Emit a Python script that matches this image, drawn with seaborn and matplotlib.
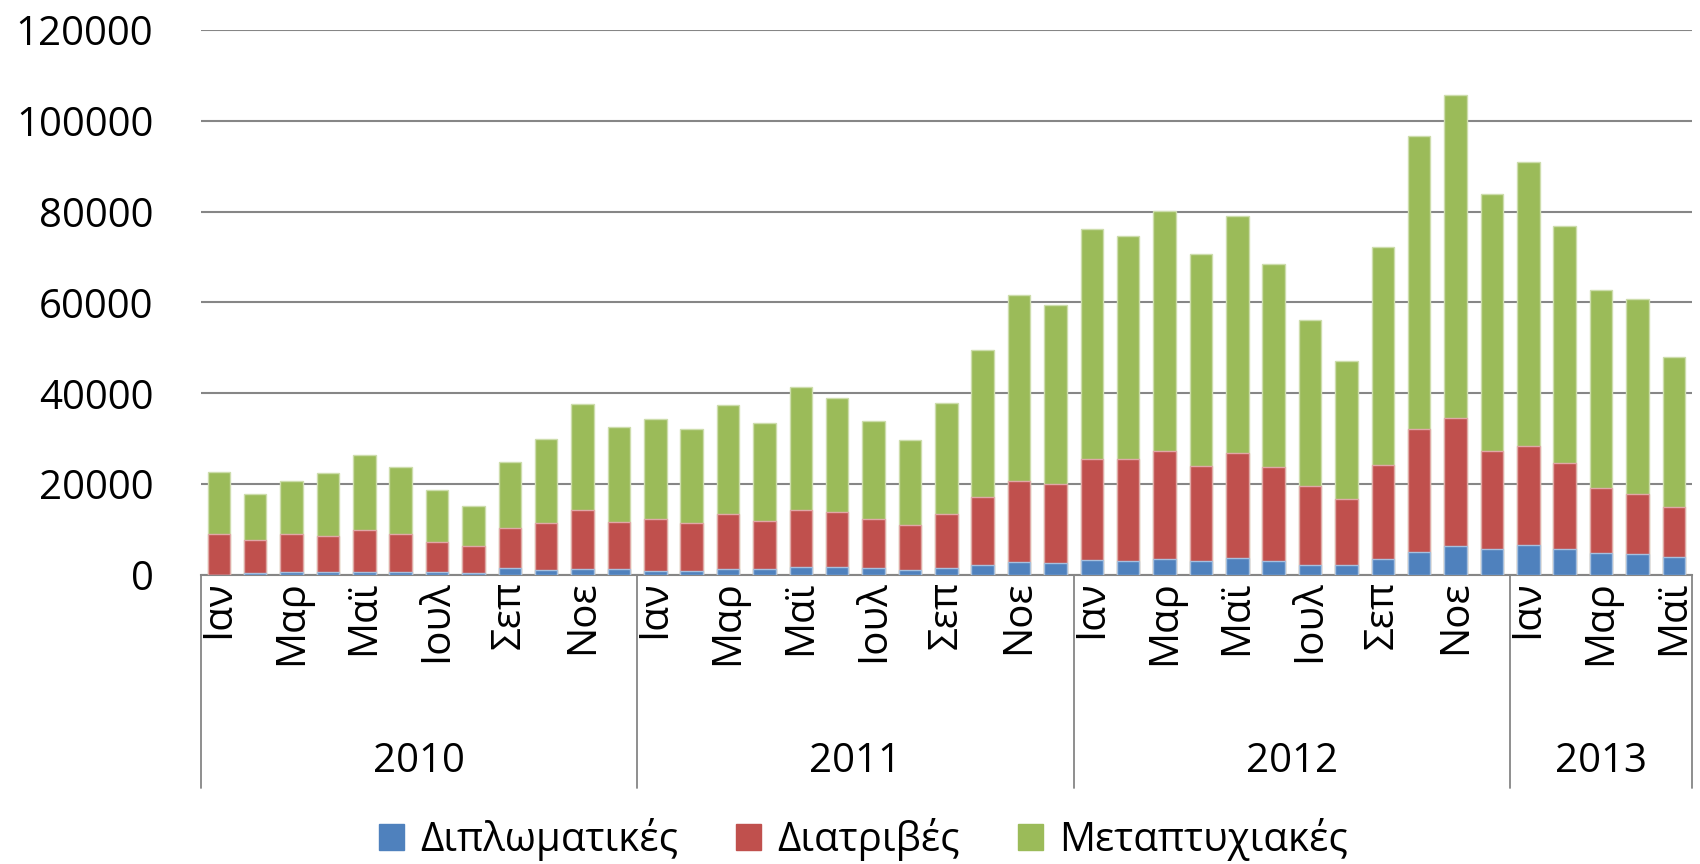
import numpy as np
import pandas as pd
import matplotlib
matplotlib.use("Agg")
import matplotlib.pyplot as plt
from matplotlib.patches import Patch
import seaborn as sns

# ---- data -------------------------------------------------------------
years = ["2010", "2011", "2012", "2013"]
months_per_year = [12, 12, 12, 5]
month_names = ["Ιαν", "Φεβ", "Μαρ", "Απρ", "Μαϊ", "Ιουν",
               "Ιουλ", "Αυγ", "Σεπ", "Οκτ", "Νοε", "Δεκ"]
series_names = ["Διπλωματικές", "Διατριβές", "Μεταπτυχιακές"]

diplomatikes = [100, 500, 680, 600, 760, 680, 600, 420, 1520, 1180, 1270, 1350,
                930, 930, 1270, 1270, 1690, 1690, 1520, 1180, 1610, 2200, 2880, 2540,
                3300, 3130, 3470, 3130, 3810, 3040, 2280, 2200, 3470, 5070, 6430, 5670,
                6600, 5670, 4740, 4570, 3970]
diatrives = [8950, 7280, 8450, 8030, 9220, 8450, 6670, 5920, 8880, 10320, 12940, 10400,
             11420, 10490, 12090, 10650, 12600, 12090, 10910, 9730, 11750, 14880, 17750, 17590,
             22240, 22320, 23760, 20800, 23000, 20640, 17250, 14630, 20720, 26980, 28070, 21650,
             21900, 18940, 14370, 13360, 11080]
metaptyxiakes = [13700, 9980, 11590, 13870, 16490, 14630, 11420, 8800, 14550, 18520, 23510, 20810,
                 22070, 20720, 24100, 21650, 27060, 25120, 21480, 18860, 24610, 32480, 40930, 39320,
                 50650, 49140, 52940, 46680, 52180, 44730, 36620, 30190, 48030, 64520, 71120, 56570,
                 62490, 52260, 43720, 42870, 32980]
y_ticks = [0, 20000, 40000, 60000, 80000, 100000, 120000]

colors = ["#4F81BD", "#C0504D", "#9BBB59"]
edges = ["#A7C0DE", "#E0A8A6", "#CDDDAC"]

# ---- build frame --------------------------------------------------------
keys, mlabels = [], []
for y, n in zip(years, months_per_year):
    for m in range(n):
        keys.append(f"{y}-{m+1:02d}")
        mlabels.append(month_names[m] if m % 2 == 0 else "")

df = pd.DataFrame({"key": keys,
                   series_names[0]: diplomatikes,
                   series_names[1]: diatrives,
                   series_names[2]: metaptyxiakes})
df["c0"] = df[series_names[0]]
df["c1"] = df["c0"] + df[series_names[1]]
df["c2"] = df["c1"] + df[series_names[2]]

FONT = ["Open Sans", "DejaVu Sans"]
sns.set_theme(style="white")
plt.rcParams["font.family"] = FONT
plt.rcParams["text.color"] = "black"
plt.rcParams["xtick.color"] = "black"
plt.rcParams["ytick.color"] = "black"
FS = 29

fig = plt.figure(figsize=(17, 8.64), dpi=100)
ax = fig.add_axes([0.118, 0.3345, 0.9953 - 0.118, 0.9653 - 0.3345])

for col, c, e in zip(["c2", "c1", "c0"], colors[::-1], edges[::-1]):
    sns.barplot(data=df, x="key", y=col, order=keys, color=c, saturation=1,
                width=0.62, edgecolor=e, linewidth=1.0, ax=ax, zorder=3)

ax.set_xlim(-0.5, len(keys) - 0.5)
ax.set_ylim(0, 120000)
ax.set_yticks(y_ticks)
ax.set_yticklabels([str(v) for v in y_ticks], fontsize=FS, color="black")
ax.yaxis.grid(True, color="#868686", linewidth=1.5, zorder=0)
ax.set_axisbelow(True)
ax.tick_params(axis="y", length=0, pad=34)
for s in ["left", "right", "top"]:
    ax.spines[s].set_visible(False)
ax.spines["bottom"].set_color("#868686")
ax.spines["bottom"].set_linewidth(1.5)
ax.set_xlabel("")
ax.set_ylabel("")

ax.set_xticks(range(len(keys)))
ax.set_xticklabels(mlabels, rotation=90, fontsize=FS, va="top", ha="center",
                   color="black")
ax.tick_params(axis="x", length=0, pad=4)

# multi-level category axis
trans = ax.get_xaxis_transform()
bounds = np.cumsum([0] + months_per_year) - 0.5
for b in bounds:
    ax.plot([b, b], [0, -0.391], transform=trans, color="#868686",
            linewidth=1.3, clip_on=False, zorder=1)
for y, a, b in zip(years, bounds[:-1], bounds[1:]):
    ax.text((a + b) / 2, -0.343, y, transform=trans, ha="center", va="center",
            fontsize=FS, color="black")

handles = [Patch(facecolor=c, edgecolor=c) for c in colors]
leg = fig.legend(handles, series_names, loc="center", bbox_to_anchor=(0.508, 0.028),
                 ncol=3, frameon=False, fontsize=FS, handlelength=0.62,
                 handleheight=0.62, handletextpad=0.4, columnspacing=1.45)
for t in leg.get_texts():
    t.set_color("black")

fig.savefig("out.png", dpi=100)
